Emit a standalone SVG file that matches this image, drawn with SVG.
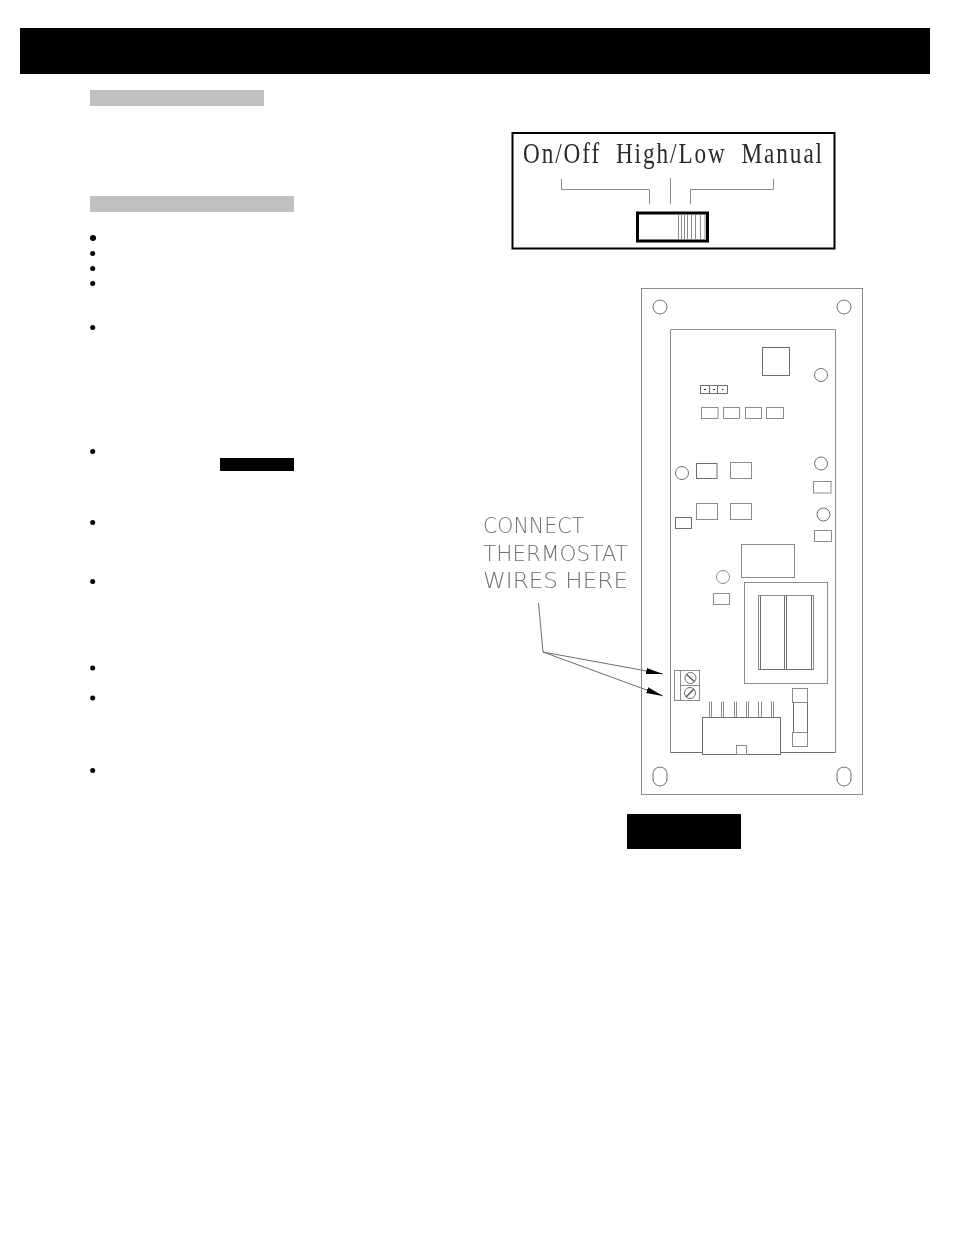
<svg xmlns="http://www.w3.org/2000/svg" width="954" height="1235" viewBox="0 0 954 1235">
<style>
.k{fill:#000}.g{fill:#c0c0c0}
.l{fill:none;stroke:#8c8c8c;stroke-width:1}
.d{fill:none;stroke:#6e6e6e;stroke-width:1}
.c{font-family:"DejaVu Sans",sans-serif;font-weight:200;font-size:20.500px;fill:#707070}
.s{font-family:"Liberation Serif",serif;font-size:30px;letter-spacing:2.500px;word-spacing:9px;fill:#2a2a2a}
</style>
<defs>
<filter id="n" x="0" y="0" width="1" height="1"><feOffset dx="0" dy="0"/></filter>
<marker id="ah" markerUnits="userSpaceOnUse" markerWidth="18" markerHeight="10" refX="17" refY="4.500" orient="auto"><path d="M0 1.500L17 4.500L0 7.500Z" fill="#000"/></marker>
</defs>
<rect width="954" height="1235" fill="#fff"/>
<g id="page-bars">
<rect class="k" x="20" y="28" width="910" height="46"/>
<rect class="g" x="90" y="90" width="174" height="16"/>
<rect class="g" x="90" y="196" width="204" height="16"/>
<rect class="k" x="220" y="458" width="74" height="13"/>
<rect class="k" x="627" y="814" width="114" height="35"/>
</g>
<g id="bullets" class="k">
<circle cx="93" cy="238" r="3"/><circle cx="92.700" cy="253.500" r="2.500"/><circle cx="92.700" cy="268.500" r="2.500"/><circle cx="92.700" cy="283.500" r="2.500"/><circle cx="92.700" cy="327.500" r="2.500"/><circle cx="92.700" cy="451.500" r="2.500"/><circle cx="92.700" cy="522.500" r="2.500"/><circle cx="92.700" cy="581.500" r="2.500"/><circle cx="92.700" cy="668" r="2.500"/><circle cx="92.700" cy="698" r="2.500"/><circle cx="92.700" cy="770.500" r="2.500"/>
</g>
<g id="switch-panel">
<rect x="512.500" y="133" width="322" height="115.500" fill="#fff" stroke="#000" stroke-width="2"/>
<g filter="url(#n)">
<text class="s" x="523" y="163" textLength="301" lengthAdjust="spacingAndGlyphs">On/Off High/Low Manual</text>
</g>
<path class="l" d="M561.500 179V189.500H649.500V204M670.500 178V204M690.500 204V189.500H773.500V179"/>
<rect x="637.500" y="213" width="70" height="28" fill="#fff" stroke="#000" stroke-width="3"/>
<path class="l" d="M678.500 214.500V239.500M681.500 214.500V239.500M684.500 214.500V239.500M687.500 214.500V239.500M691.500 214.500V239.500M695.500 214.500V239.500M700.500 214.500V239.500M705 214.500V239.500"/>
</g>
<g id="control-board">
<rect class="l" x="641.500" y="288.500" width="221" height="506"/>
<path class="l" d="M670.500 752.500V329.500H835.500V752.500"/>
<path class="d" d="M670.500 752.500H702.500M780.500 752.500H835.500"/>
<circle class="d" cx="660" cy="307" r="7"/><circle class="d" cx="844" cy="307" r="7"/>
<rect class="d" x="653" y="767" width="14" height="19" rx="7" ry="7"/><rect class="d" x="837" y="767" width="14" height="19" rx="7" ry="7"/>
<rect class="d" x="762.500" y="347.500" width="27" height="28"/>
<circle class="d" cx="821" cy="375" r="6.500"/>
<rect class="d" x="700.500" y="385.500" width="27" height="8"/><path class="d" d="M709.500 385.500V393.500M717.500 385.500V393.500"/>
<path d="M704 389.500h2M713 389.500h2M722 389.500h1.500" stroke="#333"/>
<rect class="l" x="701.500" y="407.500" width="16.500" height="11"/><rect class="l" x="723.500" y="407.500" width="16" height="11"/><rect class="l" x="745.500" y="407.500" width="16" height="11"/><rect class="l" x="766.500" y="407.500" width="17" height="11"/>
<circle class="d" cx="682" cy="473" r="6.500"/>
<rect class="d" x="696.500" y="463.500" width="20.500" height="15"/><rect class="l" x="730.500" y="462.500" width="21" height="16"/>
<circle class="d" cx="821" cy="463.500" r="6.500"/><rect class="l" x="813.500" y="481.500" width="17.500" height="11.500"/>
<circle class="d" cx="823.500" cy="514.500" r="6.500"/><rect class="l" x="814.500" y="530.500" width="17" height="11"/>
<rect class="l" x="696.500" y="503.500" width="21" height="16"/><rect class="l" x="730.500" y="503.500" width="21" height="16"/>
<rect class="d" x="675.500" y="517.500" width="16" height="11"/>
<rect class="l" x="741.500" y="544.500" width="53" height="33"/>
<circle class="l" cx="723" cy="577" r="6.500"/><rect class="l" x="713.500" y="593.500" width="16" height="11"/>
<rect class="l" x="744.500" y="582.500" width="83" height="101"/>
<rect class="l" x="758.500" y="595.500" width="55" height="74"/>
<path class="d" d="M760.500 595.500V669.500M784.500 595.500V669.500M786.500 595.500V669.500M811.500 595.500V669.500M758.500 669.500H813.500"/>
<rect class="l" x="674.500" y="670.500" width="25" height="30"/><path class="l" d="M680.500 670.500V700.500M680.500 685.500H699.500"/>
<circle class="d" cx="690.500" cy="678" r="5.500"/><circle class="d" cx="690" cy="693" r="5.500"/>
<path d="M686.500 674.500L694.500 681.500M686 697L694 689" stroke="#555" stroke-width="1.500"/>
<path class="l" d="M709.500 701.500V717.500M711.500 701.500V717.500M721.500 701.500V717.500M723.500 701.500V717.500M734.500 701.500V717.500M736.500 701.500V717.500M746.500 701.500V717.500M748.500 701.500V717.500M758.500 701.500V717.500M761.500 701.500V717.500M771.500 701.500V717.500M773.500 701.500V717.500"/>
<rect class="d" x="702.500" y="717.500" width="78" height="37" fill="#fff"/>
<rect class="l" x="736.500" y="745.500" width="10" height="9"/>
<rect class="l" x="792.500" y="688.500" width="15" height="14"/>
<rect class="l" x="792.500" y="732.500" width="15" height="14"/>
<path class="d" d="M793.500 702.500V732.500M807.500 702.500V732.500"/>
</g>
<g id="callout-label" filter="url(#n)">
<text class="c" x="483" y="533" textLength="101" lengthAdjust="spacingAndGlyphs">CONNECT</text>
<text class="c" x="483" y="561" textLength="145" lengthAdjust="spacingAndGlyphs">THERMOSTAT</text>
<text class="c" x="483" y="588" textLength="145" lengthAdjust="spacingAndGlyphs">WIRES HERE</text>
</g>
<g id="connectors">
<path class="d" d="M538.500 603L543 652"/>
<path class="d" d="M543 652L663 674" marker-end="url(#ah)"/>
<path class="d" d="M543 652L663 696" marker-end="url(#ah)"/>
</g>
</svg>
